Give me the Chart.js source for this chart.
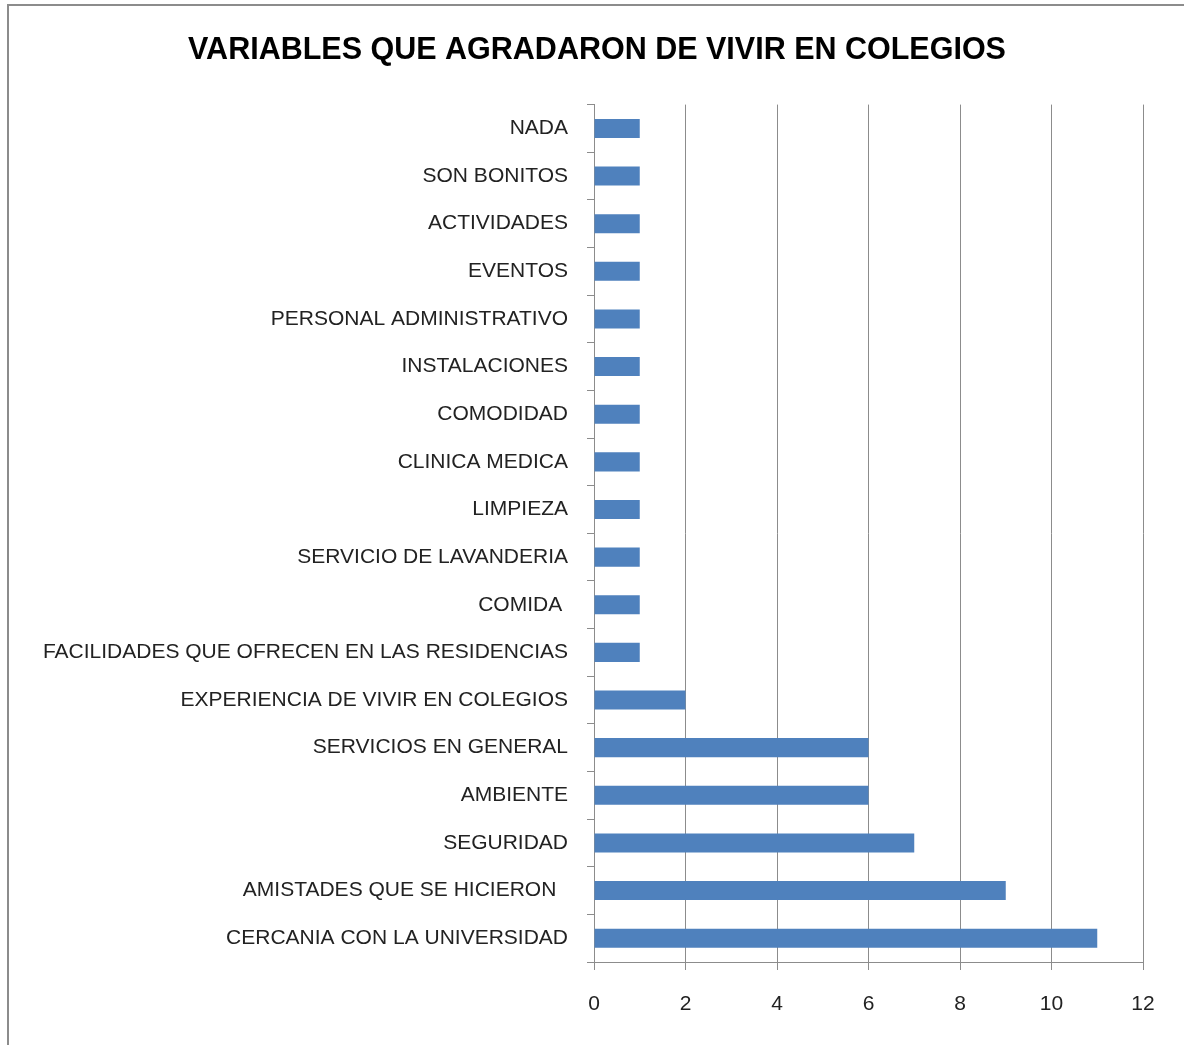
<!DOCTYPE html>
<html>
<head>
<meta charset="utf-8">
<script src="https://cdn.jsdelivr.net/npm/chart.js@4"></script>
<style>
  html, body { margin: 0; padding: 0; background: #fff; }
  #wrap { width: 1184px; height: 1045px; position: relative; }
</style>
</head>
<body>
<div id="wrap"><canvas id="myChart"></canvas></div>
<script>
const categories = [
  "NADA",
  "SON BONITOS",
  "ACTIVIDADES",
  "EVENTOS",
  "PERSONAL ADMINISTRATIVO",
  "INSTALACIONES",
  "COMODIDAD",
  "CLINICA MEDICA",
  "LIMPIEZA",
  "SERVICIO DE LAVANDERIA",
  "COMIDA ",
  "FACILIDADES QUE OFRECEN EN LAS RESIDENCIAS",
  "EXPERIENCIA DE VIVIR EN COLEGIOS",
  "SERVICIOS EN GENERAL",
  "AMBIENTE",
  "SEGURIDAD",
  "AMISTADES QUE SE HICIERON  ",
  "CERCANIA CON LA UNIVERSIDAD",
];
const counts = [1, 1, 1, 1, 1, 1, 1, 1, 1, 1, 1, 1, 2, 6, 6, 7, 9, 11];
const xTicks = [0, 2, 4, 6, 8, 10, 12];

const FONT = "'Liberation Sans', Arial, sans-serif";

// gray frame around the chart (left and top edges visible)
const frame = {
  id: "frame",
  beforeDraw(chart) {
    const c = chart.ctx;
    c.save();
    c.strokeStyle = "#8c8c8c";
    c.lineWidth = 2;
    c.strokeRect(8, 5, 1200, 1100);
    c.restore();
  },
};

// title in the original sits a bit right of the canvas centre
const titleNudge = {
  id: "titleNudge",
  afterLayout(chart) {
    if (chart.titleBlock) chart.titleBlock.left = 51;
  },
};

const ctx = document.getElementById("myChart");

const myChart = new Chart(ctx, {
  type: "bar",
  data: {
    labels: categories,
    datasets: [
      {
        data: counts,
        backgroundColor: "#4f81bd",
        borderWidth: 0,
        barPercentage: 0.4,
        categoryPercentage: 1,
      },
    ],
  },
  plugins: [frame, titleNudge],
  options: {
    indexAxis: "y",
    responsive: true,
    maintainAspectRatio: false,
    animation: false,
    layout: { padding: { left: 10, right: 41, top: 0, bottom: 0 } },
    scales: {
      x: {
        min: 0,
        max: 12,
        afterBuildTicks: (s) => {
          s.ticks = xTicks.map((v) => ({ value: v }));
        },
        afterFit: (s) => {
          s.height = 83;
        },
        grid: {
          color: "#8c8c8c",
          lineWidth: 1,
          tickLength: 8,
        },
        border: { color: "#8c8c8c", width: 1 },
        ticks: {
          color: "#222",
          padding: 22,
          font: { family: FONT, size: 21 },
        },
      },
      y: {
        afterFit: (s) => {
          s.width = 594 - 10;
        },
        grid: {
          offset: true,
          drawOnChartArea: false,
          color: "#8c8c8c",
          tickLength: 7,
        },
        border: { color: "#8c8c8c", width: 1 },
        ticks: {
          color: "#222",
          padding: 19,
          autoSkip: false,
          font: { family: FONT, size: 21 },
        },
      },
    },
    plugins: {
      legend: { display: false },
      tooltip: { enabled: false },
      title: {
        display: true,
        text: "VARIABLES QUE AGRADARON DE VIVIR EN COLEGIOS",
        color: "#000",
        font: { family: FONT, size: 30.5, weight: "bold" },
        padding: { top: 32, bottom: 36 },
      },
    },
  },
});
</script>
</body>
</html>
